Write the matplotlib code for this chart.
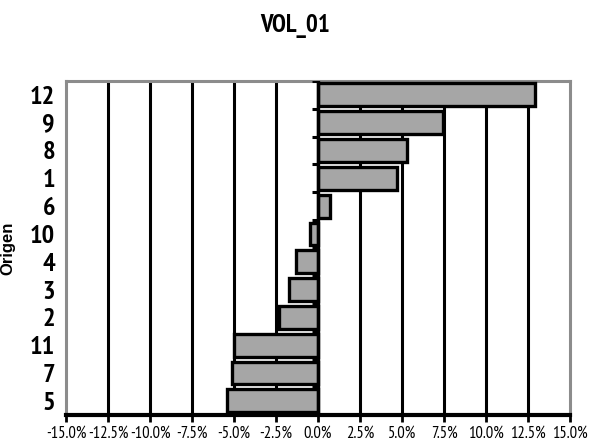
import numpy as np
import matplotlib.pyplot as plt

# categorias (de cima para baixo) e variacao em %
origens = ['12', '9', '8', '1', '6', '10', '4', '3', '2', '11', '7', '5']
variacao = [12.9, 7.45, 5.3, 4.7, 0.7, -0.5, -1.3, -1.7, -2.3, -5.0, -5.1, -5.4]
ticks_x = [-15.0, -12.5, -10.0, -7.5, -5.0, -2.5, 0.0, 2.5, 5.0, 7.5, 10.0, 12.5, 15.0]

narrow = ['PT Sans Narrow', 'Open Sans Condensed', 'DejaVu Sans']

fig = plt.figure(figsize=(5.9, 4.47), dpi=100)
ax = fig.add_axes([0.112, 0.072, 0.854, 0.747])

pos = np.arange(len(origens))
ax.barh(pos, variacao, height=0.82, color='#a6a6a6', edgecolor='black',
        linewidth=2.4, zorder=3)

# grade vertical preta
for t in ticks_x:
    if t != 0 and abs(t) < 15:
        ax.axvline(t, color='black', linewidth=2.2, zorder=1)

# linha do zero com tracinhos entre categorias
ax.axvline(0, color='black', linewidth=2.4, zorder=4)
limites = np.arange(len(origens) + 1) - 0.5
ax.hlines(limites, -0.35, 0, color='black', linewidth=2.2, zorder=4)

ax.set_xlim(-15, 15)
ax.set_ylim(len(origens) - 0.5, -0.5)
ax.set_xticks(ticks_x)
ax.set_xticklabels([f'{t:.1f}%' for t in ticks_x], family=narrow, fontsize=12)
ax.set_yticks(pos)
ax.set_yticklabels(origens, family=narrow, fontsize=19, fontweight='bold')
ax.tick_params(axis='y', length=0, pad=8)
ax.tick_params(axis='x', length=5, width=2, color='black', pad=3)

for s in ['top', 'right', 'left']:
    ax.spines[s].set_color('#8c8c8c')
    ax.spines[s].set_linewidth(2.2)
ax.spines['bottom'].set_color('black')
ax.spines['bottom'].set_linewidth(3)
ax.spines['bottom'].set_zorder(5)

ax.set_ylabel('Origen', fontsize=12, fontweight='bold', family=['Liberation Sans', 'DejaVu Sans'])
ax.yaxis.set_label_coords(-0.1, 0.5)
fig.text(0.5, 0.942, 'VOL_01', ha='center', va='center', fontsize=18,
         fontweight='bold', family=narrow)

fig.savefig('out.png', dpi=100)
